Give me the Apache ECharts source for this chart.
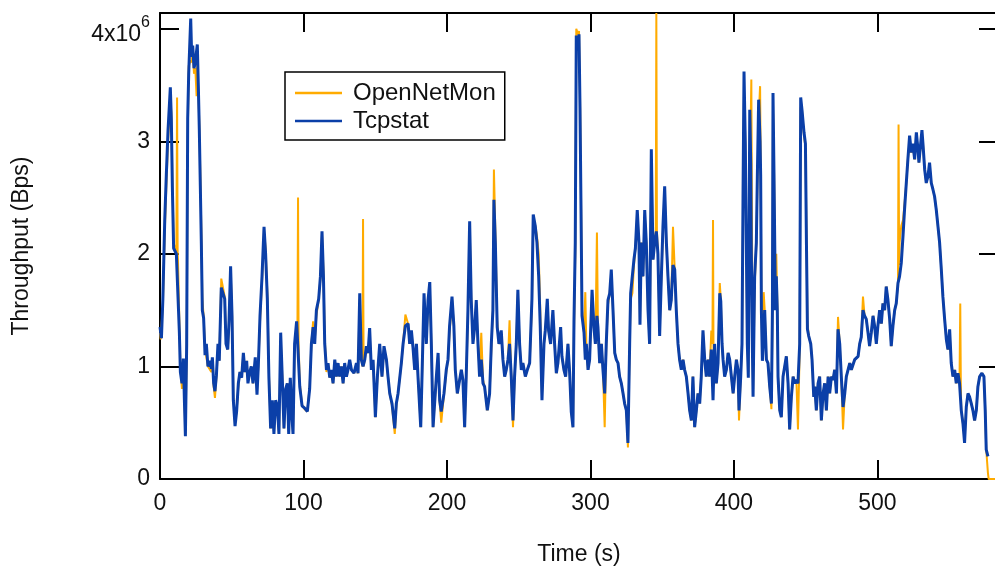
<!DOCTYPE html>
<html>
<head>
<meta charset="utf-8">
<script src="https://cdn.jsdelivr.net/npm/echarts@6/dist/echarts.min.js"></script>
<style>html,body{margin:0;padding:0;background:#fff;}#c{width:995px;height:570px;}</style>
</head>
<body>
<div id="c"></div>
<script>
// Throughput in units of 10^6 Bps, time in seconds
const seriesNames = ['OpenNetMon', 'Tcpstat'];
const xTicks = [0, 100, 200, 300, 400, 500];
const yTicks = [0, 1, 2, 3, 4];
const yTickLabels = ['0', '1', '2', '3', '{a|4x10}{s|6}'];

const tcpstat = [[0,1.35],[1,1.25],[2,1.6],[3.3,2.3],[4.4,2.7],[5.6,3.1],[7.2,3.48],[7.9,3.2],[8.6,2.6],[9.5,2.05],[11.4,2.0],[12.5,2.0],[13.5,1.3],[14.2,0.95],[15.3,0.85],[16.3,1.07],[17,0.7],[17.7,0.38],[18.6,1.2],[19.3,3.2],[20,3.6],[21.4,4.09],[22.1,3.75],[22.8,3.85],[23.7,3.65],[24.6,3.7],[26,3.86],[26.7,3.5],[27.4,3.1],[28.1,2.6],[28.8,2.1],[29.5,1.5],[30.4,1.43],[31.4,1.1],[32.3,1.2],[33.4,1.0],[34.6,1.05],[35.8,0.98],[36.5,1.08],[37.4,0.85],[38.3,0.78],[39.3,0.92],[40.4,1.2],[41.3,1.05],[42.7,1.7],[43.9,1.7],[45.1,1.6],[46,1.2],[47.2,1.15],[48.1,1.4],[49.2,1.89],[50.2,1.45],[51.1,0.7],[52.3,0.47],[53.4,0.6],[54.6,0.85],[55.7,0.95],[56.9,0.9],[58.1,1.12],[59.2,0.95],[60.4,1.05],[61.3,0.85],[62.5,0.95],[63.6,1.0],[64.8,0.85],[66.4,1.08],[67.6,0.75],[68.5,1.0],[69.7,1.45],[71.1,1.8],[72.5,2.24],[73.6,2.0],[74.8,1.6],[75.9,0.9],[77.1,0.45],[78.3,0.7],[79.4,0.4],[80.6,0.7],[81.8,0.65],[82.9,0.4],[84.1,1.3],[85.2,0.9],[86.4,0.45],[87.6,0.8],[88.7,0.85],[89.7,0.4],[90.8,0.9],[92,0.55],[92.7,0.4],[93.8,1.2],[95.2,1.4],[96.2,1.4],[97.4,0.82],[99,0.65],[100.8,0.63],[102.7,0.6],[104.3,0.8],[105.5,1.2],[106.7,1.35],[107.8,1.2],[109,1.5],[110.6,1.6],[111.8,1.8],[112.9,2.2],[113.9,1.8],[114.8,1.2],[116,0.97],[117.1,1.03],[118.3,0.9],[119.4,0.97],[120.6,0.85],[121.8,1.06],[122.9,0.91],[124.1,1.03],[125.2,0.91],[126.4,1.0],[127.6,0.85],[128.7,1.03],[129.9,0.91],[131,0.97],[132.2,1.06],[133.4,0.97],[135.2,0.94],[136.9,1.03],[138,0.94],[139.2,1.65],[140.3,1.06],[141.5,1.0],[142.7,1.06],[143.8,1.18],[145,1.12],[146.1,1.34],[147.3,0.97],[148.5,1.06],[150.1,0.55],[151.5,0.91],[153.1,1.2],[154.7,0.91],[156.1,1.18],[157.8,1.06],[158.9,0.91],[160.1,0.76],[161.7,0.67],[163.6,0.45],[164.7,0.67],[165.9,0.76],[168.2,1.03],[169.4,1.2],[171,1.36],[172.9,1.38],[174,1.2],[175.2,1.32],[176.3,1.17],[177.5,0.97],[178.7,1.2],[179.8,0.91],[181.7,0.46],[182.6,0.91],[184,1.65],[185.6,1.2],[186.8,1.59],[188,1.75],[189.1,1.2],[190.3,0.46],[192.6,0.91],[193.8,1.12],[194.9,0.7],[196,0.6],[197.9,0.76],[199.5,0.97],[200.7,1.06],[201.8,1.36],[203.5,1.62],[204.8,1.36],[205.8,0.97],[207.2,0.76],[208.8,0.88],[210,0.97],[211.1,0.88],[212.3,0.46],[213.4,0.91],[214.6,1.5],[215.8,2.29],[216.9,1.59],[218.1,1.2],[219.3,1.35],[220.4,1.59],[221.6,1.2],[222.7,0.91],[223.9,1.06],[225.1,0.85],[226.2,0.82],[228.1,0.61],[229.7,0.76],[230.9,1.2],[232,1.5],[232.7,2.48],[233.7,2.1],[235,1.35],[236.2,1.2],[237.8,1.32],[239,1.06],[240.2,0.91],[241.3,0.97],[242.5,1.06],[243.6,1.2],[244.8,0.91],[246,0.52],[247.1,0.91],[248.3,1.2],[249.4,1.68],[250.6,1.2],[251.8,0.97],[252.9,1.03],[254.6,0.91],[256,0.97],[257.6,1.03],[259.2,1.6],[260.1,2.35],[261.5,2.25],[262.7,2.1],[263.9,1.8],[265,1.35],[266.2,0.7],[267.6,1.2],[268.5,1.32],[269.9,1.6],[270.8,1.32],[272.2,1.2],[273.8,1.5],[275,1.2],[276.2,0.94],[277.3,1.03],[279.2,1.35],[280.1,1.09],[281.5,0.97],[282.7,0.91],[284.3,1.2],[285.5,0.94],[286.6,0.6],[287.8,0.46],[288.5,1.4],[289.4,2.1],[290.1,3.94],[291.3,3.88],[292,3.95],[292.7,3.3],[293.4,2.4],[294.1,1.45],[295.5,1.3],[296.4,1.06],[297.1,1.2],[298.3,0.97],[299.4,1.06],[301.1,1.68],[302.4,1.35],[303.4,1.2],[304.5,1.45],[305.2,1.35],[306.4,1.03],[307.6,1.2],[308.7,0.97],[309.9,0.76],[311,1.2],[312.2,1.59],[313.4,1.65],[314.5,1.86],[315.7,1.5],[316.9,1.12],[318,1.06],[319.2,1.03],[320.3,0.91],[321.5,0.85],[322.7,0.76],[323.8,0.67],[325,0.61],[326.1,0.32],[327.3,1.2],[328,1.65],[329.2,1.65],[330.3,1.95],[331.3,2.05],[332.6,2.39],[333.8,2.1],[334.5,1.37],[335.4,2.1],[336.6,1.8],[337.8,2.39],[338.9,2.1],[340.1,1.5],[341.2,1.2],[342.4,2.93],[343.6,1.95],[344.7,2.1],[345.9,2.2],[347,2.0],[348.2,1.27],[349.4,1.8],[350.5,2.24],[351.7,2.6],[352.9,2.1],[354,1.8],[355.2,1.5],[356.3,1.59],[357.5,1.9],[358.7,1.86],[359.8,1.5],[361,1.2],[362.1,1.06],[363.3,0.97],[364.5,1.06],[365.6,0.97],[366.8,0.91],[368,0.76],[369.1,0.61],[370.3,0.52],[371.4,0.91],[372.6,0.46],[373.8,0.61],[374.9,0.76],[376.1,0.67],[377.2,0.91],[378.4,1.32],[379.6,1.06],[380.7,0.91],[381.9,1.06],[383,0.91],[384.2,1.15],[385.4,0.7],[386.5,1.2],[387.7,0.85],[388.9,1.03],[390.1,1.65],[390.8,1.58],[391.7,1.2],[392.4,1.06],[393.5,0.91],[394.7,0.97],[395.9,1.12],[397,1.06],[398.2,0.91],[399.4,0.76],[400.5,0.91],[401.7,1.06],[402.8,0.97],[403.5,0.61],[404.7,0.91],[405.6,1.2],[406.3,2.5],[407,3.62],[407.9,2.98],[408.6,2.1],[409.3,1.2],[410,0.9],[411,3.28],[411.7,2.8],[412.1,2.0],[412.8,1.2],[413.3,0.73],[414.4,1.8],[415.6,2.1],[416.3,2.7],[417.2,3.37],[418.2,3.0],[418.6,2.7],[419.1,1.5],[419.8,1.05],[420.7,1.3],[421.4,1.5],[422.6,1.06],[423.7,1.03],[424.9,0.82],[426.1,0.67],[426.8,1.5],[427.2,3.43],[427.9,2.7],[428.9,1.5],[429.5,1.8],[430.2,1.5],[430.7,0.91],[431.9,0.61],[433,0.55],[434.2,0.91],[435.4,0.91],[436.5,1.09],[437.7,0.85],[438.8,0.44],[440,0.73],[441.2,0.91],[442.3,0.85],[443.5,0.88],[444.6,0.85],[445.8,1.2],[446.5,3.39],[447.4,3.28],[448.8,3.08],[449.8,2.98],[450.5,2.1],[451.2,1.33],[452.1,1.27],[453.5,1.2],[454.4,1.06],[455.6,0.73],[456.3,0.82],[457.4,0.61],[458.6,0.85],[459.7,0.91],[460.9,0.52],[462.1,0.76],[463.2,0.85],[464.4,0.61],[465.6,0.91],[466.7,0.76],[467.9,0.91],[469,0.88],[470.2,0.97],[471.4,0.76],[472.5,1.33],[473.7,1.2],[474.8,0.91],[476,0.64],[477.2,0.76],[478.3,0.91],[479.5,0.97],[480.7,1.03],[481.8,0.97],[484.1,1.06],[486.5,1.09],[487.6,1.2],[488.7,1.26],[489.9,1.5],[491,1.45],[492.2,1.42],[493.4,1.3],[494.5,1.18],[495.7,1.3],[496.9,1.45],[498,1.36],[499.2,1.2],[500.3,1.36],[501.5,1.5],[502.7,1.38],[503.8,1.56],[505,1.5],[506.1,1.71],[507.3,1.59],[508.5,1.42],[509.6,1.18],[510.8,1.36],[512,1.5],[513.1,1.56],[514.3,1.74],[515.4,1.8],[516.6,1.92],[517.8,2.16],[518.9,2.4],[520.1,2.63],[521.2,2.84],[522.4,3.05],[523.6,2.9],[524.7,2.98],[525.9,2.84],[527.1,3.08],[528.2,2.93],[528.9,2.81],[530.1,2.98],[531,3.1],[531.7,2.98],[532.9,2.75],[534,2.63],[535.2,2.69],[536.3,2.81],[537.5,2.63],[538.7,2.57],[539.8,2.51],[541,2.39],[542.2,2.24],[543.3,2.1],[544.5,1.86],[545.6,1.62],[546.8,1.42],[548,1.24],[549.1,1.15],[550.3,1.33],[551.4,1.03],[552.6,0.91],[553.8,0.97],[554.9,0.85],[556.1,0.94],[557.2,0.85],[558.4,0.61],[559.6,0.49],[560.7,0.32],[561.9,0.64],[563.1,0.76],[564.2,0.73],[565.4,0.67],[566.5,0.61],[567.7,0.52],[568.9,0.61],[570,0.82],[571.2,0.91],[572.8,0.94],[574.2,0.91],[575.1,0.61],[575.8,0.26],[577,0.2]];

const openNetMon = [[0,1.3],[0.5,1.24],[2,1.55],[3.3,2.2],[4.4,2.6],[5.6,3.0],[7.2,3.4],[7.9,3.25],[8.6,2.7],[9.5,2.1],[11.4,2.0],[11.9,3.39],[12.3,2.0],[12.5,1.95],[13.5,1.4],[14.2,1.0],[15.3,0.8],[16.3,1.0],[17,0.75],[17.7,0.4],[18.6,1.1],[19.3,3.0],[20,3.67],[21.4,3.72],[22.1,3.7],[22.8,3.8],[23.7,3.6],[24.6,3.65],[25.5,3.4],[26,3.7],[26.7,3.45],[27.4,3.15],[28.1,2.7],[28.8,2.2],[29.5,1.6],[30.4,1.45],[31.4,1.15],[32.3,1.15],[33.4,1.0],[34.6,1.0],[35.8,0.95],[36.5,1.05],[37.4,0.82],[38.3,0.72],[39.3,0.9],[40.4,1.15],[41.3,1.05],[42.7,1.78],[43.9,1.78],[45.1,1.62],[46,1.25],[47.2,1.15],[48.1,1.35],[49.2,1.85],[50.2,1.5],[51.1,0.75],[52.3,0.5],[53.4,0.6],[54.6,0.82],[55.7,0.95],[56.9,0.92],[58.1,1.1],[59.2,0.95],[60.4,1.05],[61.3,0.88],[62.5,0.92],[63.6,1.0],[64.8,0.85],[66.4,1.05],[67.6,0.78],[68.5,1.0],[69.7,1.4],[71.1,1.75],[72.5,2.2],[73.6,2.05],[74.8,1.65],[75.9,0.95],[77.1,0.45],[78.3,0.68],[79.4,0.42],[80.6,0.7],[81.8,0.62],[82.9,0.4],[84.1,1.25],[85.2,0.92],[86.4,0.45],[87.6,0.78],[88.7,0.85],[89.7,0.42],[90.8,0.88],[92,0.55],[92.7,0.42],[93.8,1.15],[95.2,1.38],[95.8,1.4],[96.2,2.5],[96.6,1.2],[97.4,0.85],[99,0.66],[100.8,0.62],[102.7,0.6],[104.3,0.82],[105.5,1.2],[106.7,1.4],[107.8,1.22],[109,1.45],[110.6,1.6],[111.8,1.78],[112.9,2.18],[113.9,1.85],[114.8,1.25],[116,0.95],[117.1,1.03],[118.3,0.9],[119.4,0.95],[120.6,0.85],[121.8,1.05],[122.9,0.91],[124.1,1.0],[125.2,0.91],[126.4,1.0],[127.6,0.85],[128.7,1.0],[129.9,0.91],[131,0.97],[132.2,1.05],[133.4,0.97],[135.2,0.94],[136.9,1.0],[138,0.94],[139.2,1.6],[140.3,1.06],[141.1,1.0],[141.5,2.31],[141.9,1.0],[142.7,1.06],[143.8,1.15],[145,1.12],[146.1,1.3],[147.3,0.97],[148.5,1.05],[150.1,0.55],[151.5,0.9],[153.1,1.18],[154.7,0.91],[156.1,1.15],[157.8,1.06],[158.9,0.91],[160.1,0.76],[161.7,0.65],[163.6,0.4],[164.7,0.65],[165.9,0.76],[168.2,1.03],[169.4,1.2],[171,1.46],[172.9,1.38],[174,1.2],[175.2,1.3],[176.3,1.17],[177.5,0.97],[178.7,1.2],[179.8,0.91],[181.7,0.46],[182.6,0.9],[184,1.6],[185.6,1.2],[186.8,1.55],[188,1.72],[189.1,1.2],[190.3,0.46],[192.6,0.9],[193.8,1.1],[194.9,0.68],[196,0.5],[197.9,0.75],[199.5,0.95],[200.7,1.06],[201.8,1.3],[203.5,1.6],[204.8,1.36],[205.8,0.97],[207.2,0.76],[208.8,0.88],[210,0.97],[211.1,0.88],[212.3,0.46],[213.4,0.9],[214.6,1.45],[215.8,2.25],[216.9,1.6],[218.1,1.25],[219.3,1.35],[220.4,1.55],[221.6,1.2],[222.7,0.95],[223.9,1.3],[225.1,0.88],[226.2,0.82],[228.1,0.61],[229.7,0.76],[230.9,1.15],[232,1.5],[232.7,2.75],[233.7,2.2],[235,1.4],[236.2,1.2],[237.8,1.3],[239,1.06],[240.2,0.91],[241.3,0.97],[242.5,1.06],[243.6,1.41],[244.8,0.91],[246,0.46],[247.1,0.9],[248.3,1.2],[249.4,1.65],[250.6,1.2],[251.8,0.97],[252.9,1.03],[254.6,0.91],[256,0.97],[257.6,1.03],[259.2,1.55],[260.1,2.3],[261.5,2.25],[262.7,2.16],[263.9,2.0],[265,1.5],[266.2,0.75],[267.6,1.2],[268.5,1.32],[269.9,1.55],[270.8,1.32],[272.2,1.2],[273.8,1.45],[275,1.2],[276.2,0.94],[277.3,1.03],[279.2,1.3],[280.1,1.09],[281.5,0.97],[282.7,0.91],[284.3,1.2],[285.5,0.94],[286.6,0.6],[287.8,0.46],[288.5,1.3],[289.4,2.0],[290.1,4.0],[291.3,3.95],[292,3.98],[292.7,3.4],[293.4,2.5],[294.1,1.5],[295.5,1.3],[296.4,1.66],[297.1,1.2],[298.3,0.97],[299.4,1.06],[301.1,1.65],[302.4,1.35],[303.4,1.2],[304,1.2],[304.5,2.19],[305.2,1.35],[306.4,1.03],[307.6,1.2],[308.7,0.97],[309.9,0.46],[311,1.2],[312.2,1.55],[313.4,1.65],[314.5,1.82],[315.7,1.5],[316.9,1.12],[318,1.06],[319.2,1.03],[320.3,0.91],[321.5,0.85],[322.7,0.76],[323.8,0.67],[325,0.61],[326.1,0.28],[327.3,1.2],[328,1.6],[329.2,1.65],[330.3,1.9],[331.3,2.05],[332.6,2.35],[333.8,2.1],[334.5,1.4],[335.4,2.1],[336.6,1.8],[337.8,2.35],[338.9,2.1],[340.1,1.5],[341.2,1.2],[342.4,2.8],[343.6,1.95],[344.7,2.1],[345.5,2.2],[345.9,4.14],[346.3,2.2],[347,2.0],[348.2,1.3],[349.4,1.8],[350.5,2.2],[351.7,2.55],[352.9,2.1],[354,1.8],[355.2,1.5],[356.3,1.59],[357.5,2.24],[358.7,1.86],[359.8,1.5],[361,1.2],[362.1,1.06],[363.3,0.97],[364.5,1.06],[365.6,0.97],[366.8,0.91],[368,0.76],[369.1,0.61],[370.3,0.52],[371.4,0.91],[372.6,0.46],[373.8,0.61],[374.9,0.76],[376.1,0.67],[377.2,0.91],[378.4,1.3],[379.6,1.06],[380.7,0.91],[381.9,1.06],[383,0.91],[384.2,1.32],[385,1.2],[385.4,2.3],[385.8,0.9],[386.5,1.2],[387.7,0.85],[388.9,1.03],[390.1,1.74],[390.8,1.6],[391.7,1.2],[392.4,1.06],[393.5,0.91],[394.7,0.97],[395.9,1.12],[397,1.06],[398.2,0.91],[399.4,0.76],[400.5,0.91],[401.7,1.06],[402.8,0.97],[403.5,0.52],[404.7,0.91],[405.6,1.2],[406.3,2.3],[407,3.45],[407.9,3.0],[408.6,2.2],[409.3,1.2],[410,0.95],[411,2.6],[411.7,3.2],[412.1,3.55],[412.8,1.5],[413.3,0.8],[414.4,1.7],[415.6,2.1],[416.3,2.6],[417.2,3.2],[418.2,3.49],[418.6,2.8],[419.1,1.6],[419.8,1.1],[420.7,1.66],[421.4,1.5],[422.6,1.06],[423.7,1.03],[424.9,0.82],[426.1,0.62],[426.8,1.4],[427.2,3.3],[427.9,2.75],[428.9,1.6],[429.5,2.0],[430.2,1.55],[430.7,0.91],[431.9,0.61],[433,0.55],[434.2,0.91],[435.4,0.91],[436.5,1.09],[437.7,0.85],[438.8,0.44],[440,0.73],[441.2,0.91],[442.3,0.85],[443.5,0.88],[444.6,0.44],[445.8,1.15],[446.5,3.3],[447.4,3.28],[448.8,3.05],[449.8,2.95],[450.5,2.2],[451.2,1.4],[452.1,1.27],[453.5,1.2],[454.4,1.06],[455.6,0.73],[456.3,0.82],[457.4,0.61],[458.6,0.85],[459.7,0.91],[460.9,0.52],[462.1,0.76],[463.2,0.85],[464.4,0.61],[465.6,0.91],[466.7,0.76],[467.9,0.91],[469,0.88],[470.2,0.97],[471.4,0.76],[472.5,1.44],[473.7,1.2],[474.8,0.91],[476,0.44],[477.2,0.76],[478.3,0.91],[479.5,0.97],[480.7,1.03],[481.8,0.97],[484.1,1.06],[486.5,1.09],[487.6,1.2],[488.7,1.26],[489.9,1.62],[491,1.45],[492.2,1.42],[493.4,1.3],[494.5,1.18],[495.7,1.3],[496.9,1.45],[498,1.36],[499.2,1.2],[500.3,1.36],[501.5,1.5],[502.7,1.38],[503.8,1.56],[505,1.5],[506.1,1.71],[507.3,1.59],[508.5,1.42],[509.6,1.18],[510.8,1.36],[512,1.5],[513.1,1.56],[514.3,1.74],[514.7,3.15],[515.1,1.9],[515.4,2.1],[516.6,2.25],[517.8,2.3],[518.9,2.45],[520.1,2.63],[521.2,2.84],[522.4,3.0],[523.6,2.9],[524.7,2.95],[525.9,2.84],[527.1,3.05],[528.2,2.93],[528.9,2.81],[530.1,2.95],[531,3.05],[531.7,2.98],[532.9,2.75],[534,2.63],[535.2,2.69],[536.3,2.78],[537.5,2.63],[538.7,2.57],[539.8,2.51],[541,2.39],[542.2,2.24],[543.3,2.1],[544.5,1.86],[545.6,1.62],[546.8,1.42],[548,1.24],[549.1,1.15],[550.3,1.3],[551.4,1.03],[552.6,0.91],[553.8,0.97],[554.9,0.85],[556.1,0.94],[557.2,0.9],[557.7,1.56],[558.1,0.85],[558.4,0.61],[559.6,0.49],[560.7,0.35],[561.9,0.64],[563.1,0.76],[564.2,0.73],[565.4,0.67],[566.5,0.61],[567.7,0.52],[568.9,0.61],[570,0.82],[571.2,0.91],[572.8,0.94],[574.2,0.91],[575.1,0.61],[575.8,0.26],[577,0.05],[577.5,0],[584,0]];

const xMax = 584;
const yMax = 4.14;

const font = '"Liberation Sans", Arial, sans-serif';
const ink = '#111';

const chart = echarts.init(document.getElementById('c'), null, { renderer: 'canvas' });

function xLabel(v) { return xTicks.indexOf(v) >= 0 ? String(v) : ''; }
function yLabel(v) { const i = yTicks.indexOf(v); return i >= 0 ? yTickLabels[i] : ''; }

const axisLine = { show: true, onZero: false, lineStyle: { color: '#000', width: 2 } };
const axisTick = { show: true, inside: true, length: 19, lineStyle: { color: '#000', width: 2 } };

chart.setOption({
  animation: false,
  backgroundColor: '#fff',
  grid: { left: 160, top: 13, width: 838, height: 466, containLabel: false, outerBoundsMode: 'none' },
  legend: {
    orient: 'vertical',
    left: 285, top: 72,
    padding: [9, 9, 7, 10],
    itemGap: 4,
    icon: 'rect',
    itemWidth: 47, itemHeight: 2.5,
    borderColor: '#000', borderWidth: 1.5,
    textStyle: { fontFamily: font, fontSize: 24, color: ink, padding: [0, 0, 0, 6] },
    data: seriesNames
  },
  xAxis: [
    { type: 'value', position: 'bottom', min: 0, max: xMax, interval: 100,
      axisLine: axisLine, axisTick: axisTick, splitLine: { show: false },
      axisLabel: { formatter: xLabel, fontFamily: font, fontSize: 23, color: ink, margin: 13 },
      name: 'Time (s)', nameLocation: 'middle', nameGap: 64,
      nameTextStyle: { fontFamily: font, fontSize: 23, color: ink } },
    { type: 'value', position: 'top', min: 0, max: xMax, interval: 100,
      axisLine: axisLine, axisTick: axisTick, splitLine: { show: false },
      axisLabel: { show: false } }
  ],
  yAxis: [
    { type: 'value', position: 'left', min: 0, max: yMax, interval: 1,
      axisLine: axisLine, axisTick: axisTick, splitLine: { show: false },
      axisLabel: { formatter: yLabel, fontFamily: font, fontSize: 23, color: ink, margin: 10,
        rich: {
          a: { fontFamily: font, fontSize: 23, color: ink, padding: [12, 0, 0, 0] },
          s: { fontFamily: font, fontSize: 16, color: ink, padding: [0, 0, 12, 0] }
        } },
      name: 'Throughput (Bps)', nameLocation: 'middle', nameGap: 127, nameRotate: 90,
      nameTextStyle: { fontFamily: font, fontSize: 23, color: ink } },
    { type: 'value', position: 'right', min: 0, max: yMax, interval: 1,
      axisLine: axisLine, axisTick: axisTick, splitLine: { show: false },
      axisLabel: { show: false } }
  ],
  series: [
    { name: seriesNames[0], type: 'line', data: openNetMon, symbol: 'none', xAxisIndex: 0, yAxisIndex: 0,
      color: '#ffab00', lineStyle: { color: '#ffab00', width: 2 }, itemStyle: { color: '#ffab00' }, z: 2 },
    { name: seriesNames[1], type: 'line', data: tcpstat, symbol: 'none', xAxisIndex: 0, yAxisIndex: 0,
      color: '#0b3fa8', lineStyle: { color: '#0b3fa8', width: 3 }, itemStyle: { color: '#0b3fa8' }, z: 3 }
  ]
});
</script>
</body>
</html>
